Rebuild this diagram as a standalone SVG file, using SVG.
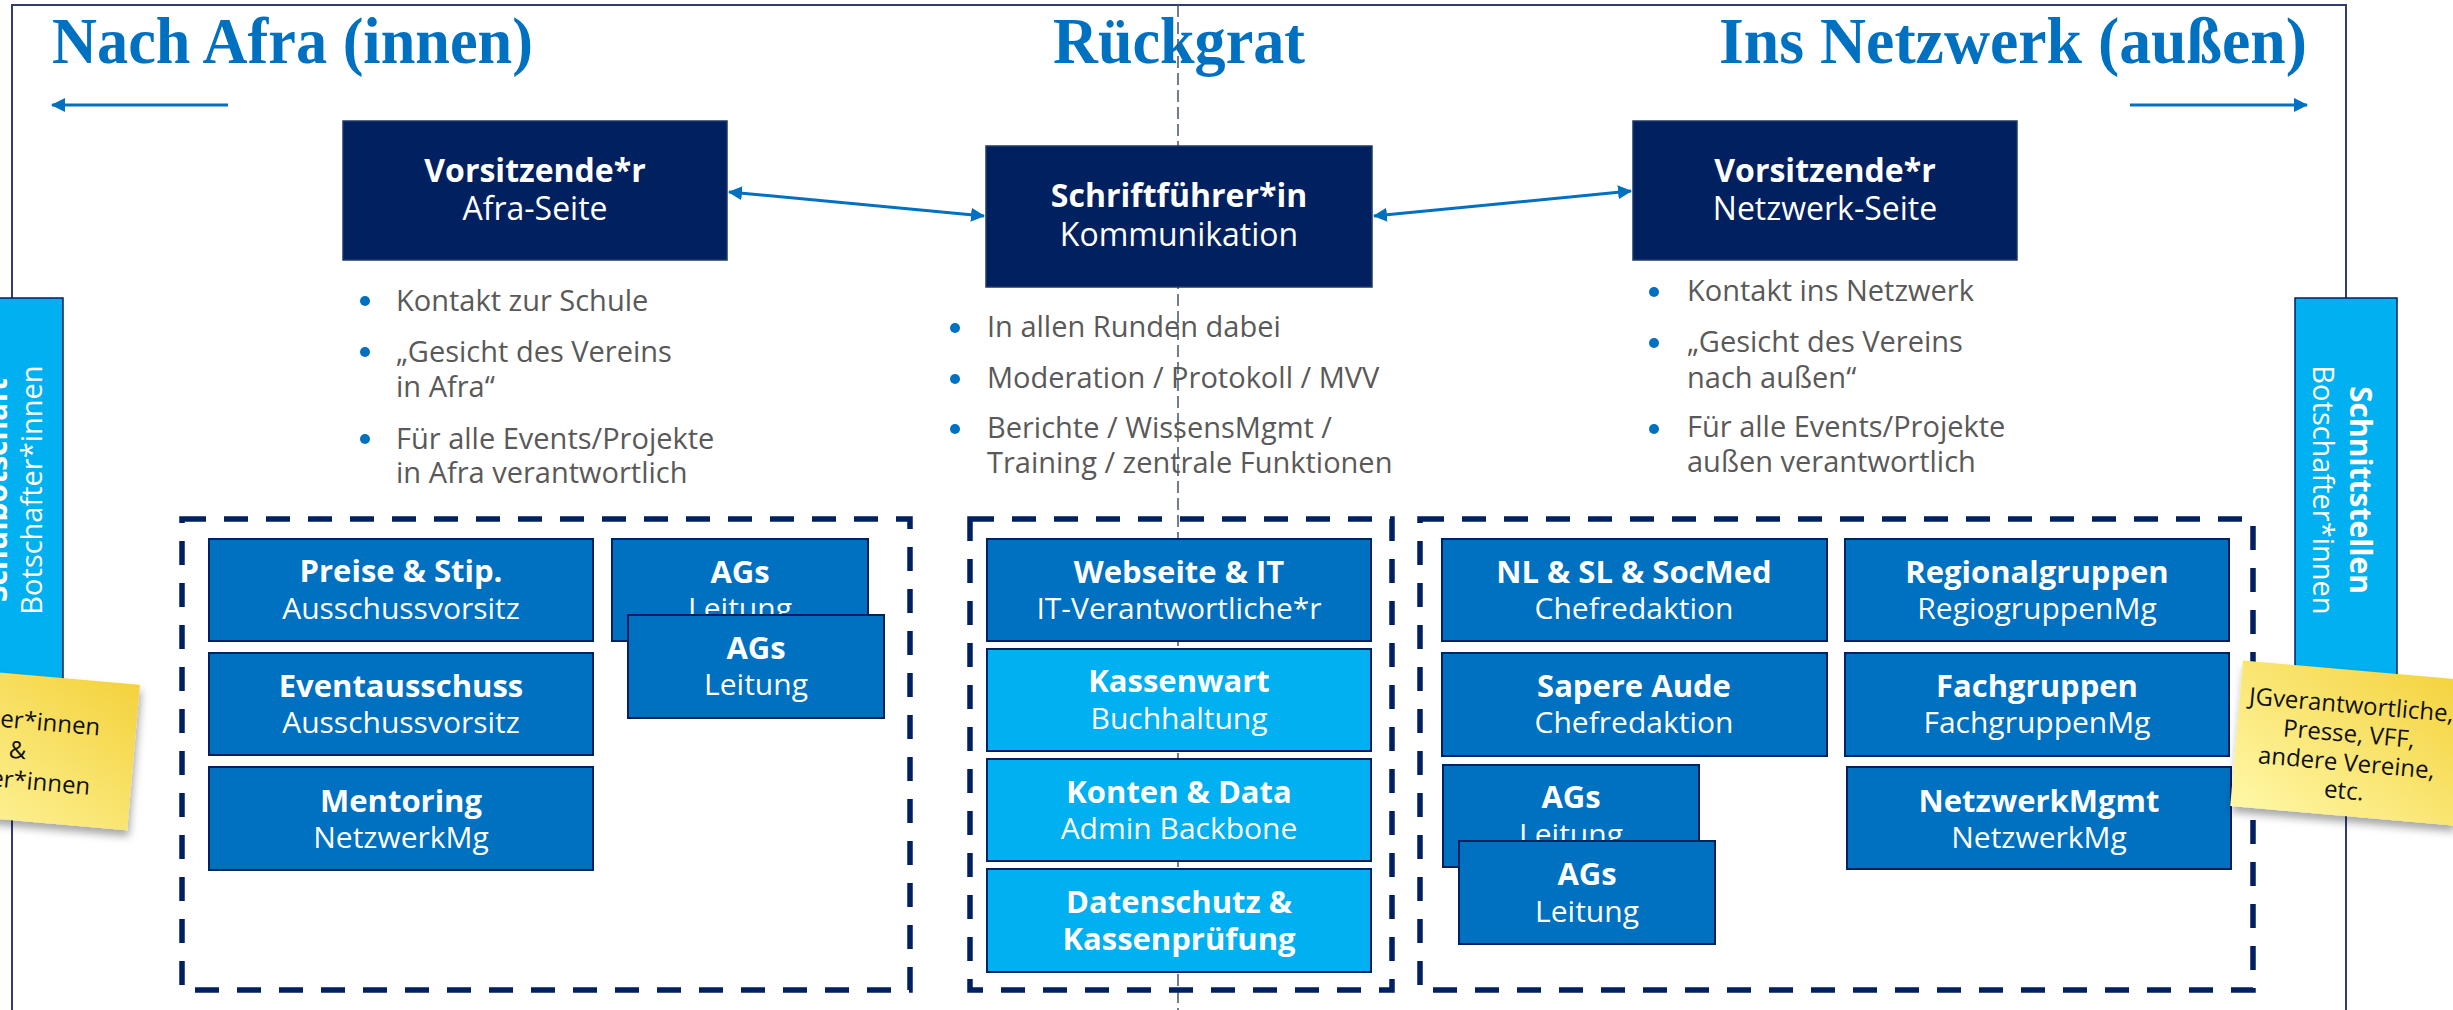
<svg xmlns="http://www.w3.org/2000/svg" width="2453" height="1010" viewBox="0 0 2453 1010">
<defs>
<style>
.frame{fill:none;stroke:#2F3D73;stroke-width:2}
.title{font-family:"Liberation Serif",serif;font-weight:bold;font-size:66px;fill:#0070C0}
.spine{stroke:#44546A;stroke-width:1.5;stroke-dasharray:12 5;fill:none}
.conn{stroke:#0070C0;stroke-width:3;fill:none}
.bul{font-family:"Open Sans",sans-serif;font-size:29px;fill:#595959}
.dot{fill:#0070C0}
.top rect{fill:#002060;stroke:#1F3864;stroke-width:1.5}
.tb{font-family:"Open Sans",sans-serif;font-weight:bold;font-size:32px;fill:#fff;text-anchor:middle}
.tr{font-family:"Open Sans",sans-serif;font-size:32px;fill:#fff;text-anchor:middle}
.box rect{fill:#0070C0;stroke:#002060;stroke-width:2}
.lbox rect{fill:#00B0F0;stroke:#002060;stroke-width:2}
.bb{font-family:"Open Sans",sans-serif;font-weight:bold;font-size:31px;fill:#fff;text-anchor:middle}
.br{font-family:"Open Sans",sans-serif;font-size:30px;fill:#fff;text-anchor:middle}
.grp{fill:none;stroke:#002060;stroke-width:5.5;stroke-dasharray:24 18}
.side{fill:#00B0F0;stroke:#002060;stroke-width:1.5}
.sb{font-family:"Open Sans",sans-serif;font-weight:bold;font-size:30px;fill:#fff;text-anchor:middle}
.sr{font-family:"Open Sans",sans-serif;font-size:29px;fill:#fff;text-anchor:middle}
.note{font-family:"Open Sans",sans-serif;font-size:24px;fill:#111;text-anchor:middle}
</style>
<marker id="ah" viewBox="0 0 14 14" refX="13" refY="7" markerWidth="14" markerHeight="14" markerUnits="userSpaceOnUse" orient="auto-start-reverse">
<path d="M0,0 L14,7 L0,14 z" fill="#0070C0"/>
</marker>
<linearGradient id="sticky" x1="0" y1="1" x2="1" y2="0">
<stop offset="0" stop-color="#FFF8A8"/>
<stop offset="1" stop-color="#F4D23C"/>
</linearGradient>
<filter id="shadow" x="-20%" y="-20%" width="140%" height="150%">
<feDropShadow dx="2" dy="6" stdDeviation="4" flood-color="#000" flood-opacity="0.35"/>
</filter>
</defs>

<rect width="2453" height="1010" fill="#fff"/>
<path class="frame" d="M12,1012 L12,5 L2346,5 L2346,1012"/>

<g id="titles">
<text class="title" x="52" y="63" textLength="481" lengthAdjust="spacingAndGlyphs">Nach Afra (innen)</text>
<text class="title" x="1053" y="63" textLength="252" lengthAdjust="spacingAndGlyphs">Rückgrat</text>
<text class="title" x="1719" y="63" textLength="588" lengthAdjust="spacingAndGlyphs">Ins Netzwerk (außen)</text>
</g>

<line class="spine" x1="1178" y1="5" x2="1178" y2="1010"/>

<g id="connectors">
<line class="conn" x1="228" y1="105" x2="52" y2="105" marker-end="url(#ah)"/>
<line class="conn" x1="2130" y1="105" x2="2307" y2="105" marker-end="url(#ah)"/>
<line class="conn" x1="729" y1="192" x2="984" y2="216" marker-start="url(#ah)" marker-end="url(#ah)"/>
<line class="conn" x1="1374" y1="216" x2="1631" y2="191" marker-start="url(#ah)" marker-end="url(#ah)"/>
</g>

<g id="vorsitz-afra" class="top">
<rect x="343" y="121" width="384" height="139"/>
<text class="tb" x="535" y="182">Vorsitzende*r</text>
<text class="tr" x="535" y="220">Afra-Seite</text>
</g>
<g id="schriftfuehrer" class="top">
<rect x="986" y="146" width="386" height="141"/>
<text class="tb" x="1179" y="207">Schriftführer*in</text>
<text class="tr" x="1179" y="246">Kommunikation</text>
</g>
<g id="vorsitz-netzwerk" class="top">
<rect x="1633" y="121" width="384" height="139"/>
<text class="tb" x="1825" y="182">Vorsitzende*r</text>
<text class="tr" x="1825" y="220">Netzwerk-Seite</text>
</g>

<g id="bullets-afra">
<circle class="dot" cx="365" cy="301" r="5"/>
<text class="bul" x="396" y="311">Kontakt zur Schule</text>
<circle class="dot" cx="365" cy="352" r="5"/>
<text class="bul" x="396" y="362">„Gesicht des Vereins</text>
<text class="bul" x="396" y="397">in Afra“</text>
<circle class="dot" cx="365" cy="439" r="5"/>
<text class="bul" x="396" y="449">Für alle Events/Projekte</text>
<text class="bul" x="396" y="483">in Afra verantwortlich</text>
</g>
<g id="bullets-rueckgrat">
<circle class="dot" cx="955" cy="328" r="5"/>
<text class="bul" x="987" y="337">In allen Runden dabei</text>
<circle class="dot" cx="955" cy="379" r="5"/>
<text class="bul" x="987" y="388">Moderation / Protokoll / MVV</text>
<circle class="dot" cx="955" cy="429" r="5"/>
<text class="bul" x="987" y="438">Berichte / WissensMgmt /</text>
<text class="bul" x="987" y="473">Training / zentrale Funktionen</text>
</g>
<g id="bullets-netzwerk">
<circle class="dot" cx="1654" cy="292" r="5"/>
<text class="bul" x="1687" y="301">Kontakt ins Netzwerk</text>
<circle class="dot" cx="1654" cy="343" r="5"/>
<text class="bul" x="1687" y="352">„Gesicht des Vereins</text>
<text class="bul" x="1687" y="388">nach außen“</text>
<circle class="dot" cx="1654" cy="429" r="5"/>
<text class="bul" x="1687" y="437">Für alle Events/Projekte</text>
<text class="bul" x="1687" y="472">außen verantwortlich</text>
</g>

<g id="group-afra">
<rect class="grp" x="182" y="519" width="728" height="471"/>
</g>
<g id="group-rueckgrat">
<rect class="grp" x="970" y="519" width="422" height="471"/>
</g>
<g id="group-netzwerk">
<rect class="grp" x="1420" y="519" width="833" height="471"/>
</g>

<g id="preise" class="box">
<rect x="209" y="539" width="384" height="102"/>
<text class="bb" x="401" y="582">Preise &amp; Stip.</text>
<text class="br" x="401" y="619">Ausschussvorsitz</text>
</g>
<g id="eventausschuss" class="box">
<rect x="209" y="653" width="384" height="102"/>
<text class="bb" x="401" y="697">Eventausschuss</text>
<text class="br" x="401" y="733">Ausschussvorsitz</text>
</g>
<g id="mentoring" class="box">
<rect x="209" y="767" width="384" height="103"/>
<text class="bb" x="401" y="812">Mentoring</text>
<text class="br" x="401" y="848">NetzwerkMg</text>
</g>
<g id="ags-afra-1" class="box">
<rect x="612" y="539" width="256" height="102"/>
<text class="bb" x="740" y="583">AGs</text>
<text class="br" x="740" y="619">Leitung</text>
</g>
<g id="ags-afra-2" class="box">
<rect x="628" y="615" width="256" height="103"/>
<text class="bb" x="756" y="659">AGs</text>
<text class="br" x="756" y="695">Leitung</text>
</g>

<g id="webseite" class="box">
<rect x="987" y="539" width="384" height="102"/>
<text class="bb" x="1179" y="583">Webseite &amp; IT</text>
<text class="br" x="1179" y="619">IT-Verantwortliche*r</text>
</g>
<g id="kassenwart" class="lbox">
<rect x="987" y="649" width="384" height="102"/>
<text class="bb" x="1179" y="692">Kassenwart</text>
<text class="br" x="1179" y="729">Buchhaltung</text>
</g>
<g id="konten" class="lbox">
<rect x="987" y="759" width="384" height="102"/>
<text class="bb" x="1179" y="803">Konten &amp; Data</text>
<text class="br" x="1179" y="839">Admin Backbone</text>
</g>
<g id="datenschutz" class="lbox">
<rect x="987" y="869" width="384" height="103"/>
<text class="bb" x="1179" y="913">Datenschutz &amp;</text>
<text class="bb" x="1179" y="950">Kassenprüfung</text>
</g>

<g id="nl-sl" class="box">
<rect x="1442" y="539" width="385" height="102"/>
<text class="bb" x="1634" y="583">NL &amp; SL &amp; SocMed</text>
<text class="br" x="1634" y="619">Chefredaktion</text>
</g>
<g id="regionalgruppen" class="box">
<rect x="1845" y="539" width="384" height="102"/>
<text class="bb" x="2037" y="583">Regionalgruppen</text>
<text class="br" x="2037" y="619">RegiogruppenMg</text>
</g>
<g id="sapere-aude" class="box">
<rect x="1442" y="653" width="385" height="103"/>
<text class="bb" x="1634" y="697">Sapere Aude</text>
<text class="br" x="1634" y="733">Chefredaktion</text>
</g>
<g id="fachgruppen" class="box">
<rect x="1845" y="653" width="384" height="103"/>
<text class="bb" x="2037" y="697">Fachgruppen</text>
<text class="br" x="2037" y="733">FachgruppenMg</text>
</g>
<g id="netzwerkmgmt" class="box">
<rect x="1847" y="767" width="384" height="102"/>
<text class="bb" x="2039" y="812">NetzwerkMgmt</text>
<text class="br" x="2039" y="848">NetzwerkMg</text>
</g>
<g id="ags-netz-1" class="box">
<rect x="1443" y="765" width="256" height="102"/>
<text class="bb" x="1571" y="808">AGs</text>
<text class="br" x="1571" y="845">Leitung</text>
</g>
<g id="ags-netz-2" class="box">
<rect x="1459" y="841" width="256" height="103"/>
<text class="bb" x="1587" y="885">AGs</text>
<text class="br" x="1587" y="922">Leitung</text>
</g>

<g id="schulbotschaft">
<rect class="side" x="-39" y="298" width="102" height="460"/>
<g transform="translate(0,490) rotate(-90)">
<text class="sb" x="0" y="7">Schulbotschaft</text>
<text class="sr" x="0" y="42">Botschafter*innen</text>
</g>
</g>
<g id="schnittstellen">
<rect class="side" x="2295" y="298" width="102" height="460"/>
<g transform="translate(2350,490) rotate(90)">
<text class="sb" x="0" y="0">Schnittstellen</text>
<text class="sr" x="0" y="37">Botschafter*innen</text>
</g>
</g>

<g id="note-left" transform="translate(13,747) rotate(5)">
<rect x="-121" y="-73" width="242" height="146" fill="url(#sticky)" filter="url(#shadow)"/>
<text class="note" x="5" y="-19">Schüler*innen</text>
<text class="note" x="5" y="11">&amp;</text>
<text class="note" x="5" y="41">Lehrer*innen</text>
</g>
<g id="note-right" transform="translate(2348,745) rotate(5)">
<rect x="-112" y="-75" width="224" height="146" fill="url(#sticky)" filter="url(#shadow)"/>
<text class="note" x="0" y="-32">JGverantwortliche,</text>
<text class="note" x="0" y="-3">Presse, VFF,</text>
<text class="note" x="0" y="26">andere Vereine,</text>
<text class="note" x="0" y="54">etc.</text>
</g>
</svg>
